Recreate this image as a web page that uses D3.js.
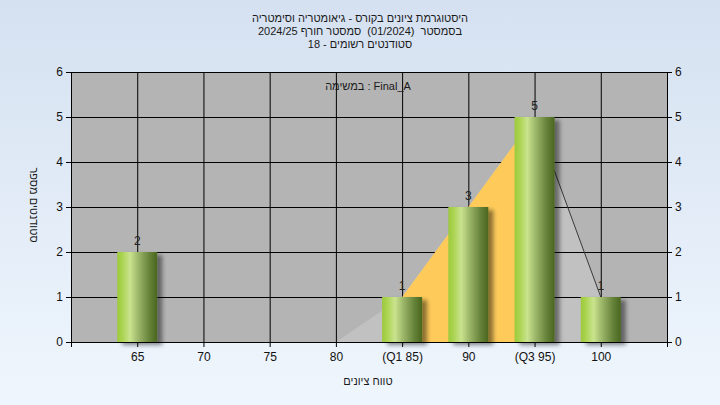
<!DOCTYPE html>
<html><head><meta charset="utf-8">
<script src="https://cdn.jsdelivr.net/npm/d3@7"></script>
<style>
html,body{margin:0;padding:0;}
svg{display:block;font-family:"Liberation Sans",Arial,sans-serif;}
.he{direction:rtl;unicode-bidi:embed;white-space:pre;}
</style></head>
<body>
<svg id="c" width="720" height="405"></svg>
<script>
// ---- data ----
const titleLines = ["היסטוגרמת ציונים בקורס - גיאומטריה וסימטריה", "בסמסטר  (01/2024)  סמסטר חורף 2024/25", "סטודנטים רשומים - 18"];
const legendWords = ["במשימה", ":", "Final_A"];      // left-to-right as drawn
const xTitle = "טווח ציונים";
const yTitleWords = ["מספר", "סטודנטים"];            // top-to-bottom as drawn
const gradeValues = [65, 70, 75, 80, 85, 90, 95, 100];
const gradeLabels = ["65", "70", "75", "80", "(Q1 85)", "90", "(Q3 95)", "100"];
const counts = [2, 0, 0, 0, 1, 3, 5, 1];
const curveX = [80, 85, 90, 95, 100];
const curveY = [0, 1, 3, 5, 1];
const q1 = 85, q3 = 95;
const yTicks = [0, 1, 2, 3, 4, 5, 6];

const W = 720, H = 405;
const svg = d3.select("#c");
const defs = svg.append("defs");
const bg = defs.append("linearGradient").attr("id", "bg").attr("x1", 0).attr("y1", 0).attr("x2", 0).attr("y2", 1);
bg.append("stop").attr("offset", "0%").attr("stop-color", "#d5e1f1");
bg.append("stop").attr("offset", "100%").attr("stop-color", "#eff6fd");
const bar = defs.append("linearGradient").attr("id", "bar").attr("x1", 0).attr("y1", 0).attr("x2", 1).attr("y2", 0);
[["0%", "#9cc93c"], ["12%", "#aad34f"], ["32%", "#c9e38e"], ["55%", "#98b266"], ["80%", "#66833a"], ["100%", "#4a661f"]]
  .forEach(s => bar.append("stop").attr("offset", s[0]).attr("stop-color", s[1]));
const sh = defs.append("filter").attr("id", "sh").attr("x", "-20%").attr("y", "-20%").attr("width", "160%").attr("height", "140%");
sh.append("feDropShadow").attr("dx", 5).attr("dy", 3).attr("stdDeviation", 2).attr("flood-color", "#000").attr("flood-opacity", 0.45);

svg.append("rect").attr("width", W).attr("height", H).attr("fill", "url(#bg)");

const x = d3.scaleLinear().domain([60, 105]).range([71, 667]);
const y = d3.scaleLinear().domain([0, 6]).range([342, 72]);

// plot background
svg.append("rect").attr("x", x(60)).attr("y", y(6)).attr("width", x(105) - x(60)).attr("height", y(0) - y(6)).attr("fill", "#b4b4b4");

const pts = curveX.map((v, i) => ({x: v, y: curveY[i]}));
const area = d3.area().x(d => x(d.x)).y0(y(0)).y1(d => y(d.y));
svg.append("path").attr("d", area(pts)).attr("fill", "#c1c1c1");

// gridlines
svg.append("g").attr("transform", `translate(${x(60)},0)`)
  .call(d3.axisLeft(y).tickValues(yTicks).tickSize(-(x(105) - x(60))).tickFormat(""))
  .call(g => g.select(".domain").remove())
  .selectAll("line").attr("stroke", "#000");
svg.append("g").attr("transform", `translate(0,${y(0)})`)
  .call(d3.axisBottom(x).tickValues(gradeValues).tickSize(-(y(0) - y(6))).tickFormat(""))
  .call(g => g.select(".domain").remove())
  .selectAll("line").attr("stroke", "#000");

// interquartile area
svg.append("path").attr("d", area(pts.filter(d => d.x >= q1 && d.x <= q3))).attr("fill", "#fecb5b");
// line after Q3
svg.append("path").attr("d", d3.line().x(d => x(d.x)).y(d => y(d.y))(pts.filter(d => d.x >= q3)))
  .attr("fill", "none").attr("stroke", "#3a3a3a").attr("stroke-width", 1);

// bars
const bw = 40;
const data = gradeValues.map((v, i) => ({v, c: counts[i]})).filter(d => d.c > 0);
svg.append("g").selectAll("rect").data(data).join("rect")
  .attr("x", d => x(d.v) - bw / 2).attr("y", d => y(d.c))
  .attr("width", bw).attr("height", d => y(0) - y(d.c))
  .attr("fill", "url(#bar)").attr("filter", "url(#sh)");
svg.append("g").selectAll("text").data(data).join("text")
  .attr("x", d => x(d.v)).attr("y", d => y(d.c) - 7)
  .attr("text-anchor", "middle").attr("font-size", 12).attr("fill", "#222")
  .text(d => d.c);

// axes
const styleAxis = g => {
  g.selectAll("line,path").attr("stroke", "#000");
  g.selectAll("text").attr("font-size", 12).attr("fill", "#111").attr("font-family", "'Liberation Sans',Arial,sans-serif");
};
svg.append("g").attr("transform", `translate(${x(60)},0)`)
  .call(d3.axisLeft(y).tickValues(yTicks).tickSize(5).tickSizeOuter(0).tickPadding(3).tickFormat(d3.format("d")))
  .call(styleAxis);
svg.append("g").attr("transform", `translate(${x(105)},0)`)
  .call(d3.axisRight(y).tickValues(yTicks).tickSize(5).tickSizeOuter(0).tickPadding(3).tickFormat(d3.format("d")))
  .call(styleAxis);
svg.append("g").attr("transform", `translate(0,${y(0)})`)
  .call(d3.axisBottom(x).tickValues(d3.range(60, 106, 5)).tickSize(5).tickSizeOuter(0).tickPadding(5)
    .tickFormat(v => { const i = gradeValues.indexOf(v); return i >= 0 ? gradeLabels[i] : ""; }))
  .call(styleAxis);

// Hebrew texts, right-to-left
const heText = (x0, y0, t) => svg.append("text").attr("class", "he")
  .attr("x", x0).attr("y", y0).attr("direction", "rtl").attr("text-anchor", "middle")
  .attr("font-size", 11).attr("fill", "#1a1a1a").text(t);
titleLines.forEach((t, i) => heText(360, 22 + i * 13, t));
heText(368, 385, xTitle);

// word-by-word layout, words placed left to right, centred on (cx, by)
function wordLine(parent, cx, by, words, fs) {
  const SP = fs * 0.278;
  const items = words.map(w => {
    const t = parent.append("text").attr("y", by).attr("font-size", fs).attr("fill", "#1a1a1a").text(w);
    return {t, w: t.node().getComputedTextLength()};
  });
  const total = d3.sum(items, d => d.w) + SP * (items.length - 1);
  let cur = cx - total / 2;
  items.forEach(it => { it.t.attr("x", cur); cur += it.w + SP; });
}
wordLine(svg, 368, 90, legendWords, 11);
wordLine(svg.append("g").attr("transform", "translate(30,205) rotate(90)"), 0, 0, yTitleWords, 11);
</script>
</body></html>
